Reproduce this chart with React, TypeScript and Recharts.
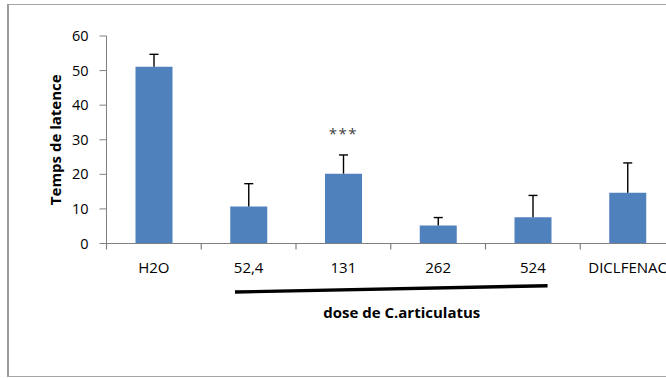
import { Bar, BarChart, Label, LabelList, XAxis, YAxis } from "recharts";

// Temps de latence moyen par groupe, avec l'erreur (barre d'erreur vers le haut)
const groupes = ["H2O", "52,4", "131", "262", "524", "DICLFENAC"];
const moyennes = [51.1, 10.7, 20.2, 5.2, 7.6, 14.7];
const erreurs = [3.6, 6.6, 5.4, 2.3, 6.3, 8.6];
const significativite = ["", "", "***", "", "", ""];
const yTicks = [0, 10, 20, 30, 40, 50, 60];

const data = groupes.map((name, i) => ({
  name,
  moyenne: moyennes[i],
  erreur: erreurs[i],
  signif: significativite[i],
}));

const FONT = "'Open Sans', 'Noto Sans', sans-serif";
const AXIS_GREY = "#808080";

const CHART_W = 676;
const Y_AXIS_W = 97.5;
const MARGIN_RIGHT = 10;
const BAND = (CHART_W - Y_AXIS_W - MARGIN_RIGHT) / groupes.length;
const X_TICK_SIZE = 6;
const X_TICK_MARGIN = 13;

// segment empilé au-dessus de la barre : dessiné comme une barre d'erreur "plus"
function Moustache(props: any) {
  const { x, y, width, height } = props;
  if (height == null || width == null) return null;
  const cx = x + width / 2;
  return (
    <g stroke="#000" strokeWidth={1.4}>
      <line x1={cx} y1={y + height} x2={cx} y2={y} />
      <line x1={cx - 4.5} y1={y} x2={cx + 4.5} y2={y} />
    </g>
  );
}

// étiquette de catégorie + graduation placée entre les catégories (style Excel)
function CategoryTick(props: any) {
  const { x, y, payload, index } = props;
  const axisY = y - X_TICK_SIZE - X_TICK_MARGIN;
  const left = x - BAND / 2;
  return (
    <g>
      <line x1={left} y1={axisY} x2={left} y2={axisY + X_TICK_SIZE} stroke={AXIS_GREY} strokeWidth={1.2} />
      {index === groupes.length - 1 && (
        <line
          x1={left + BAND}
          y1={axisY}
          x2={left + BAND}
          y2={axisY + X_TICK_SIZE}
          stroke={AXIS_GREY}
          strokeWidth={1.2}
        />
      )}
      <text
        x={x}
        y={y}
        dy="0.71em"
        textAnchor="middle"
        fill="#000"
        fontSize={15}
        fontFamily={FONT}
      >
        {payload.value}
      </text>
    </g>
  );
}

// trait souligné sous les doses + titre de l'axe des abscisses
function DoseLabel(props: any) {
  const { x, y } = props.viewBox;
  return (
    <g>
      <line
        x1={x + 1.356 * BAND}
        y1={y + 48.5}
        x2={x + 4.655 * BAND}
        y2={y + 42.2}
        stroke="#000"
        strokeWidth={3.4}
      />
      <text
        x={x + 3.116 * BAND}
        y={y + 69.5}
        dy="0.35em"
        textAnchor="middle"
        fontFamily={FONT}
        fontWeight={700}
        fontSize={15}
        fill="#000"
      >
        dose de C.articulatus
      </text>
    </g>
  );
}

export default function App() {
  return (
    <>
      <style>{"body { overflow: hidden; }"}</style>
      <div
        style={{
          position: "absolute",
          left: 7,
          top: 4,
          width: 720,
          height: 371,
          overflow: "hidden",
          borderLeft: "2px solid #9a9a9a",
          borderTop: "1px solid #a6a6a6",
          borderBottom: "1px solid #a6a6a6",
          background: "#fff",
          fontFamily: FONT,
        }}
      >
        <BarChart
          width={CHART_W}
          height={371}
          data={data}
          margin={{ top: 31, right: MARGIN_RIGHT, left: 0, bottom: 131.5 }}
        >
          <XAxis
            dataKey="name"
            height={1}
            axisLine={{ stroke: AXIS_GREY, strokeWidth: 1.2 }}
            tickLine={false}
            tickSize={X_TICK_SIZE}
            tickMargin={X_TICK_MARGIN}
            interval={0}
            tick={<CategoryTick />}
          >
            <Label content={DoseLabel} />
          </XAxis>
          <YAxis
            width={Y_AXIS_W}
            domain={[0, 60]}
            ticks={yTicks}
            tickSize={7}
            tickMargin={11}
            axisLine={{ stroke: AXIS_GREY }}
            tickLine={{ stroke: AXIS_GREY }}
            tick={{ fill: "#000", fontSize: 14.5, fontFamily: FONT }}
          >
            <Label
              value="Temps de latence"
              angle={-90}
              position="center"
              dx={-2.5}
              style={{ fill: "#000", fontSize: 15, fontWeight: 700, fontFamily: FONT }}
            />
          </YAxis>
          <Bar
            dataKey="moyenne"
            stackId="a"
            fill="#4f81bd"
            barSize={37}
            isAnimationActive={false}
          />
          <Bar
            dataKey="erreur"
            stackId="a"
            barSize={37}
            shape={<Moustache />}
            isAnimationActive={false}
          >
            <LabelList
              dataKey="signif"
              position="top"
              offset={16}
              style={{ fill: "#404040", fontSize: 15, letterSpacing: 1.5, fontFamily: FONT }}
            />
          </Bar>
        </BarChart>
      </div>
    </>
  );
}
